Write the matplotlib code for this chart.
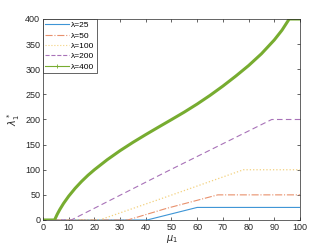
import matplotlib
matplotlib.use("Agg")
import matplotlib.pyplot as plt
from matplotlib.lines import Line2D

plt.rcParams['font.family'] = ['Liberation Sans', 'DejaVu Sans']
plt.rcParams['mathtext.fontset'] = 'dejavusans'

labels = ['λ=25', 'λ=50', 'λ=100', 'λ=200', 'λ=400']

x25 = [0, 40.5, 60, 100]
y25 = [0, 0, 25, 25]
x50 = [0, 33, 48, 68, 100]
y50 = [0, 0, 23, 50, 50]
x100 = [0, 22, 48, 78, 100]
y100 = [0, 0, 46, 100, 100]
x200 = [0, 11, 48, 89, 100]
y200 = [0, 0, 96, 200, 200]
x400 = [0, 4.5, 5.5, 6.5, 8, 10, 12.5, 15, 17.5, 20, 25, 30, 35, 40, 45, 50, 55, 60,
        65, 70, 75, 80, 85, 90, 93, 95.8, 100]
y400 = [0, 0, 11, 20.5, 33, 47.4, 63, 76.7, 89, 100, 120, 138, 154.5, 170, 185, 199.8,
        214.8, 230.8, 248, 266.5, 286.3, 307.3, 330.8, 358.3, 377.8, 400, 400]

colors = ['#3d95d6', '#e8906c', '#f3d17e', '#a872b8', '#77ac30']

fig = plt.figure(figsize=(3.32, 2.49), dpi=100)
ax = fig.add_axes([0.1295, 0.1165, 0.7741, 0.8072])

ax.plot(x25, y25, '-', color=colors[0], lw=0.8)
ax.plot(x50, y50, '-.', color=colors[1], lw=0.8)
ax.plot(x100, y100, ':', color=colors[2], lw=0.9)
ax.plot(x200, y200, '--', color=colors[3], lw=0.8, dashes=(5, 3))
ax.plot(x400, y400, '-', color=colors[4], lw=2.2, solid_joinstyle='round')

ax.set_xlim(0, 100)
ax.set_ylim(0, 400)
ax.set_xticks(range(0, 101, 10))
ax.set_yticks(range(0, 401, 50))
ax.tick_params(direction='in', length=2.5, width=0.5, labelsize=6.5,
               top=True, right=True, colors='#262626', pad=2)
for s in ax.spines.values():
    s.set_color('#262626')
    s.set_linewidth(0.5)

ax.set_xlabel(r'$\mu_1$', fontsize=7, labelpad=1, color='#262626')
ax.set_ylabel(r'$\lambda_1^*$', fontsize=7, labelpad=2, color='#262626')

styles = ['-', '-.', ':', '--', '-']
handles = []
for i, lab in enumerate(labels):
    if i == 4:
        h = Line2D([], [], color=colors[i], ls='-', lw=0.8, marker='+', markersize=3, markeredgewidth=0.6)
    else:
        h = Line2D([], [], color=colors[i], ls=styles[i], lw=0.8)
    handles.append(h)
leg = ax.legend(handles, labels, loc='upper left', bbox_to_anchor=(0, 1), borderaxespad=0,
                fontsize=6, handlelength=2.8, handletextpad=0.3, labelspacing=0.3,
                borderpad=0.3, fancybox=False, framealpha=1, edgecolor='#262626')
leg.get_frame().set_linewidth(0.5)

fig.savefig('out.png', dpi=100)
